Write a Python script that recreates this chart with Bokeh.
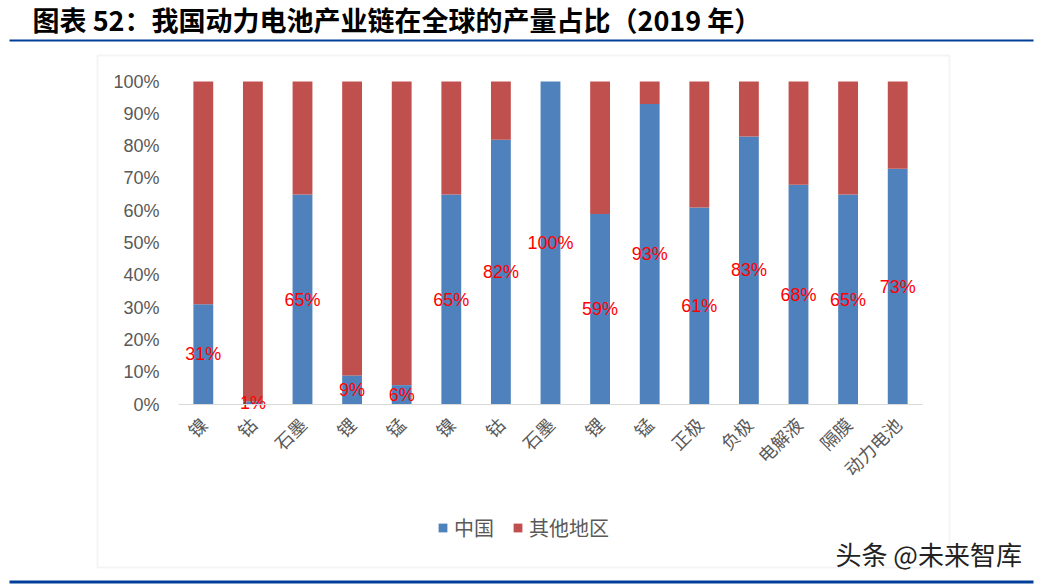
import math
from bokeh.plotting import figure
from bokeh.models import (ColumnDataSource, Range1d, FixedTicker, NumeralTickFormatter,
                          Label, BoxAnnotation, Legend, LegendItem, LinearAxis)
from bokeh.core.properties import value
from bokeh.embed import file_html
from bokeh.resources import INLINE

# ---- data ----
categories = ["镍", "钴", "石墨", "锂", "锰", "镍", "钴", "石墨", "锂", "锰",
              "正极", "负极", "电解液", "隔膜", "动力电池"]
china = [31, 1, 65, 9, 6, 65, 82, 100, 59, 93, 61, 83, 68, 65, 73]
other = [69, 99, 35, 91, 94, 35, 18, 0, 41, 7, 39, 17, 32, 35, 27]
series_names = ["中国", "其他地区"]
title_text = "图表 52：我国动力电池产业链在全球的产量占比（2019 年）"
watermark = "头条 @未来智库"
y_ticks = [0, 0.1, 0.2, 0.3, 0.4, 0.5, 0.6, 0.7, 0.8, 0.9, 1.0]

BLUE = "#4F81BD"
RED = "#C0504D"
GRAY_TXT = "#595959"

# ---- layout (pixels) ----
W, H = 1044, 586
PX_L, PX_R, PX_T, PX_B = 178, 922, 81, 404   # plot area of the bars

n = len(categories)
ux = n / (PX_R - PX_L)
uy = 1.0 / (PX_B - PX_T)
x_range = Range1d(-0.5 - PX_L * ux, n - 0.5 + (W - PX_R) * ux)
y_range = Range1d(-(H - PX_B) * uy, 1 + PX_T * uy)

idx = list(range(n))
src = ColumnDataSource(dict(
    x=idx,
    china=[v / 100 for v in china],
    other=[v / 100 for v in other],
    mid=[v / 200 for v in china],
    label=[f"{v}%" for v in china],
))

p = figure(width=W, height=H, output_backend="svg", toolbar_location=None,
           x_range=x_range, y_range=y_range, min_border=0,
           x_axis_location=None, y_axis_location=None)
p.outline_line_color = None
p.grid.visible = False
p.background_fill_color = "white"
p.border_fill_color = "white"

# outer grey frame
p.add_layout(BoxAnnotation(left=97, right=949, top=55, bottom=567,
                           left_units="canvas", right_units="canvas",
                           top_units="canvas", bottom_units="canvas",
                           fill_alpha=0, line_color="#D9D9D9", line_width=2,
                           level="underlay"))

r = p.vbar_stack(["china", "other"], x="x", width=0.4, source=src,
                 color=[BLUE, RED], line_color=None)

p.text(x="x", y="mid", text="label", source=src, text_align="center",
       text_baseline="middle", text_color="#FF0000", text_font_size="18px",
       text_font=value("Liberation Sans"))

# axes at fixed data locations
xa = LinearAxis(fixed_location=0, bounds=(-0.5, n - 0.5))
xa.ticker = FixedTicker(ticks=idx)
xa.major_label_overrides = {i: c for i, c in enumerate(categories)}
xa.major_label_orientation = math.pi / 4
xa.major_label_text_font = "Noto Sans CJK SC"
xa.major_label_text_font_size = "18px"
xa.major_label_text_color = GRAY_TXT
xa.axis_line_color = "#D9D9D9"
xa.axis_line_width = 1
xa.major_tick_line_color = None
xa.minor_tick_line_color = None
xa.major_label_standoff = 10
p.add_layout(xa, "below")

ya = LinearAxis(fixed_location=-0.5, bounds=(0, 1))
ya.ticker = FixedTicker(ticks=y_ticks)
ya.formatter = NumeralTickFormatter(format="0%")
ya.major_label_text_font = "Liberation Sans"
ya.major_label_text_font_size = "18px"
ya.major_label_text_color = GRAY_TXT
ya.axis_line_color = None
ya.major_tick_line_color = None
ya.minor_tick_line_color = None
ya.major_label_standoff = 13
p.add_layout(ya, "left")

legend = Legend(items=[LegendItem(label=series_names[0], renderers=[r[0]]),
                       LegendItem(label=series_names[1], renderers=[r[1]])],
                orientation="horizontal", location=(437, 44),
                glyph_width=11, glyph_height=11, label_standoff=6, spacing=18,
                padding=0, margin=0, border_line_color=None,
                background_fill_alpha=0,
                label_text_font="Noto Sans CJK SC", label_text_font_size="20px",
                label_text_color=GRAY_TXT)
p.add_layout(legend, "center")

# decorations (canvas units)
p.add_layout(BoxAnnotation(left=9, right=1033, top=39, bottom=41,
                           left_units="canvas", right_units="canvas",
                           top_units="canvas", bottom_units="canvas",
                           fill_color="#003F98", fill_alpha=1, line_color=None))
p.add_layout(BoxAnnotation(left=9, right=1033, top=580, bottom=583,
                           left_units="canvas", right_units="canvas",
                           top_units="canvas", bottom_units="canvas",
                           fill_color="#003F98", fill_alpha=1, line_color=None))
p.add_layout(Label(x=32, y=19, x_units="canvas", y_units="canvas", text=title_text,
                   text_font="Noto Sans CJK SC", text_font_style="bold",
                   text_font_size="27px", text_color="black", text_baseline="middle"))
p.add_layout(Label(x=835, y=553, x_units="canvas", y_units="canvas", text=watermark,
                   text_font="Noto Sans CJK SC", text_font_size="26px",
                   text_color="#222222", text_baseline="middle"))

open("out.html", "w").write(file_html(p, INLINE))
